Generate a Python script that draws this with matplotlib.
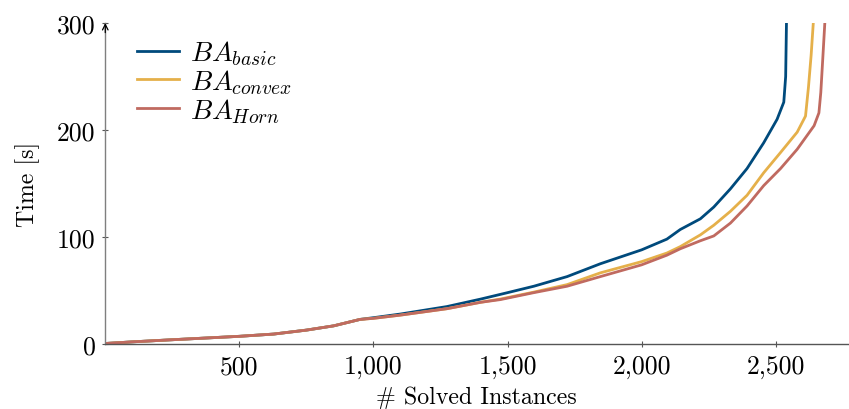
import matplotlib
matplotlib.use("Agg")
import matplotlib.pyplot as plt
from matplotlib.ticker import FuncFormatter, FixedLocator

plt.rcParams['font.family'] = 'serif'
plt.rcParams['font.serif'] = ['cmr10', 'DejaVu Serif']
plt.rcParams['mathtext.fontset'] = 'cm'
plt.rcParams['axes.formatter.use_mathtext'] = True

# Data
basic_x = [0, 100, 250, 500, 628, 750, 852, 950, 1000, 1100, 1274, 1400, 1500, 1598, 1722,
           1846, 2000, 2094, 2144, 2219, 2269, 2331, 2393, 2455, 2505, 2530, 2537, 2540]
basic_y = [0.5, 2, 4, 7.2, 9.3, 13, 17, 23, 24.6, 28, 35, 42, 48, 54, 63,
           75, 88, 98, 107, 117, 128, 145, 164, 188, 210, 226, 250, 300]

convex_x = [0, 100, 250, 500, 628, 750, 852, 950, 1000, 1100, 1274, 1400, 1473, 1598, 1722,
            1846, 2000, 2094, 2144, 2219, 2269, 2331, 2393, 2455, 2518, 2580, 2611, 2622, 2632, 2640]
convex_y = [0.5, 2, 4, 7.2, 9.3, 13, 17, 23, 24, 27, 33, 39, 42, 48.5, 55.5,
            66.5, 77, 85, 91, 102, 111, 124, 139, 160, 179, 198, 213, 240, 270, 300]

horn_x = [0, 100, 250, 500, 628, 750, 852, 950, 1000, 1100, 1274, 1400, 1473, 1598, 1722,
          1846, 2000, 2094, 2144, 2219, 2269, 2331, 2393, 2455, 2518, 2580, 2643, 2661, 2668, 2675, 2683]
horn_y = [0.5, 2, 4, 7.2, 9.3, 13, 17, 23, 24, 27, 33, 39, 41.5, 48, 54,
          63, 74, 83, 89, 96.5, 101, 113, 129, 148, 164, 182, 204, 216, 235, 265, 300]

labels = [r'$BA_{basic}$', r'$BA_{convex}$', r'$BA_{Horn}$']
colors = ['#004A7C', '#E5B04A', '#C06A60']
xticks = [500, 1000, 1500, 2000, 2500]
yticks = [0, 100, 200, 300]

fig = plt.figure(figsize=(8.49, 4.10), dpi=100)
ax = fig.add_axes([0.124, 0.1585, 0.875, 0.783])

for xs, ys, lab, c in zip([basic_x, convex_x, horn_x], [basic_y, convex_y, horn_y], labels, colors):
    ax.plot(xs, ys, color=c, lw=2.0, label=lab, solid_joinstyle='round')

ax.set_xlim(0, 2770)
ax.set_ylim(0, 300)
ax.xaxis.set_major_locator(FixedLocator(xticks))
ax.yaxis.set_major_locator(FixedLocator(yticks))
ax.xaxis.set_major_formatter(FuncFormatter(lambda v, p: f"{int(v):,}"))
ax.yaxis.set_major_formatter(FuncFormatter(lambda v, p: f"{int(v)}"))

for s in ['top', 'right']:
    ax.spines[s].set_visible(False)
ax.spines['left'].set_color('#7f7f7f')
ax.spines['bottom'].set_color('#555555')
ax.spines['left'].set_linewidth(1.0)
ax.spines['bottom'].set_linewidth(1.0)
ax.tick_params(axis='both', direction='inout', length=5, width=0.8, color='#555555',
               labelsize=18.5)
ax.tick_params(axis='x', pad=5)
ax.tick_params(axis='y', pad=4.5)

ax.annotate('', xy=(0, 1.0), xytext=(0, 0.97), xycoords='axes fraction',
            arrowprops=dict(arrowstyle='->', color='black', lw=0.9, shrinkA=0, shrinkB=0),
            annotation_clip=False)

ax.set_xlabel('# Solved Instances', fontsize=17.2, labelpad=5)
ax.set_ylabel('Time [s]', fontsize=17.2, labelpad=12)

leg = ax.legend(loc='upper left', bbox_to_anchor=(0.02, 1.004), frameon=False, fontsize=20,
                handlelength=1.53, handletextpad=0.37, labelspacing=0.0, borderaxespad=0.2)

fig.savefig('out.png', dpi=100)
